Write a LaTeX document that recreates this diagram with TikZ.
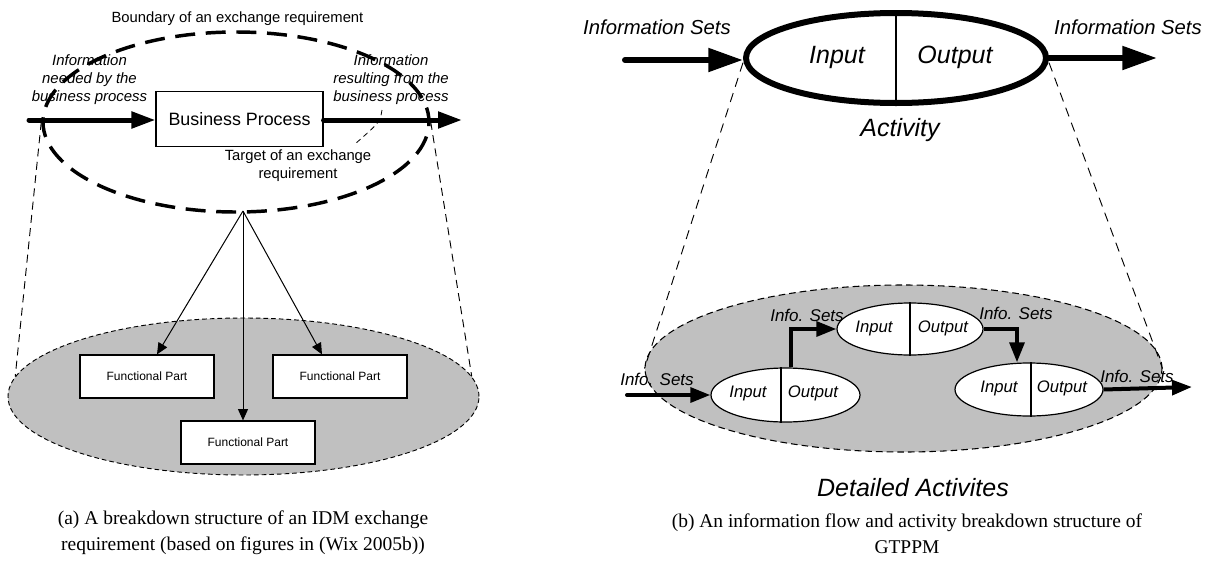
\documentclass[tikz,border=0pt]{standalone}
\usepackage{fontspec}
\setmainfont{Liberation Serif}
\setsansfont{Liberation Sans}
\usetikzlibrary{arrows.meta,shapes.geometric,calc}
\definecolor{shade}{HTML}{C0C0C0}
\begin{document}
\begin{tikzpicture}[x=0.75pt,y=-0.75pt,
  sf/.style={font=\sffamily\fontsize{#1}{#1}\selectfont},
  sfi/.style={font=\sffamily\itshape\fontsize{#1}{#1}\selectfont},
  lbl/.style={inner sep=0pt, align=center},
  bigarrow/.style={line width=3.75pt, line cap=round, -{Triangle[length=18pt,width=12pt]}},
  fatarrow/.style={line width=4.5pt, line cap=round, -{Triangle[length=26pt,width=17pt]}},
  midarrow/.style={line width=3pt, -{Triangle[length=15pt,width=11pt]}},
  thinarrow/.style={line width=0.75pt, -{Triangle[length=8.5pt,width=7.5pt]}},
  guide/.style={line width=0.7pt, dash pattern=on 6pt off 4pt},
  fpbox/.style={draw, line width=0.9pt, fill=white, minimum width=100.5pt, minimum height=32.25pt, inner sep=0pt, sf=9},
  smallact/.style={draw, ellipse, line width=0.9pt, fill=white, inner sep=0pt},
]
\useasboundingbox (0,0) rectangle (1215,561);

%%%%%%%%%%%%%%%% (a) %%%%%%%%%%%%%%%%
\node[ellipse, fill=shade, draw, line width=0.7pt, dash pattern=on 3.5pt off 2.25pt,
      minimum width=353.25pt, minimum height=117.75pt, inner sep=0pt] (gl) at (243.5,396.5) {};
\node[fpbox] (fp1) at (147,376.5) {Functional Part};
\node[fpbox] (fp2) at (340,376.5) {Functional Part};
\node[fpbox] (fp3) at (248,442.5) {Functional Part};

\node[lbl, sf=11.1] (bndlbl) at (237.5,19) {Boundary of an exchange requirement};
\node[draw, line width=0.8pt, minimum width=125.25pt, minimum height=41.25pt, inner sep=0pt, sf=13.4] (bp) at (239.5,119) {Business Process};
\node[lbl, font=\sffamily\itshape\fontsize{11.2pt}{13.5pt}\selectfont] (need) at (89.5,80) {Information\\needed by the\\business process};
\node[lbl, font=\sffamily\itshape\fontsize{11.2pt}{13.5pt}\selectfont] (res) at (391,80) {Information\\resulting from the\\business process};
\node[lbl, font=\sffamily\fontsize{11.1pt}{13.5pt}\selectfont] (tgt) at (298,166) {Target of an exchange\\requirement};

\node[ellipse, draw, line width=2.6pt, dash pattern=on 15pt off 8pt, dash phase=4pt,
      minimum width=289.5pt, minimum height=135pt, inner sep=0pt] (bnd) at (236,122) {};

\coordinate (ain) at (29,120);
\coordinate (aout) at (462,120);
\draw[bigarrow] (ain) -- (bp.west |- ain);
\draw[bigarrow] (bp.east |- aout) -- (aout);

\draw[guide, line width=0.6pt, dash pattern=on 4pt off 3pt] (382,110) .. controls (380,122) .. (355,144);

\coordinate (apex) at (243,211);
\draw[thinarrow] (apex) -- ($(fp1.north)+(7.5pt,0)$);
\draw[thinarrow] (apex) -- ($(fp2.north)+(-13.5pt,0)$);
\draw[thinarrow] (apex) -- ($(fp3.north)+(-3.75pt,0)$);

\draw[guide] (bnd.west) -- (gl.175);
\draw[guide] (bnd.east) -- (gl.5);

\node[lbl, font=\fontsize{14.6pt}{19.5pt}\selectfont] (capa) at (243,533)
  {(a) A breakdown structure of an IDM exchange\\requirement (based on figures in (Wix 2005b))};

%%%%%%%%%%%%%%%% (b) %%%%%%%%%%%%%%%%
\node[ellipse, fill=shade, draw, line width=0.8pt, dash pattern=on 5pt off 3pt,
      minimum width=387.75pt, minimum height=125.25pt, inner sep=0pt] (gr) at (903.5,368.5) {};

\node[ellipse, draw, line width=4.5pt, fill=white, minimum width=225pt, minimum height=67.5pt, inner sep=0pt] (act) at (896,58) {};
\draw[line width=0.9pt] (act.north) -- (act.south);
\node[lbl, sfi=18.75] (actin) at (837,57) {Input};
\node[lbl, sfi=18.75] (actout) at (955,57) {Output};
\node[lbl, sfi=18.75] (actlbl) at (900,130) {Activity};
\node[lbl, sfi=15.2] (isl) at (657,27) {Information Sets};
\node[lbl, sfi=15.2] (isr) at (1128,27) {Information Sets};

\coordinate (bin) at (625,60);
\coordinate (bout) at (1157,58);
\draw[fatarrow] (bin) -- (act.west |- bin);
\draw[fatarrow] (act.east) -- (bout);

\draw[guide, dash pattern=on 7pt off 5pt] ($(act.west)+(0,-3.5pt)$) -- (gr.west);
\draw[guide, dash pattern=on 7pt off 5pt] ($(act.east)+(0,-3.5pt)$) -- (gr.east);

\node[smallact, minimum width=111.75pt, minimum height=40.5pt] (A) at (785.5,395) {};
\node[smallact, minimum width=109.5pt, minimum height=39pt] (B) at (910,329) {};
\node[smallact, minimum width=111pt, minimum height=39.75pt] (C) at (1029,389.5) {};
\draw[line width=0.9pt] ([xshift=-3.4pt]A.north) -- ([xshift=-3.4pt]A.south);
\draw[line width=0.9pt] (B.north) -- (B.south);
\draw[line width=0.9pt] ([xshift=1.5pt]C.north) -- ([xshift=1.5pt]C.south);

\node[lbl, sfi=12.5] (ain2) at (748,393) {Input};
\node[lbl, sfi=12.5] (aout2) at (813,393) {Output};
\node[lbl, sfi=12.5] (bin2) at (874,328) {Input};
\node[lbl, sfi=12.5] (bout2) at (943,328) {Output};
\node[lbl, sfi=12.5] (cin2) at (999,388) {Input};
\node[lbl, sfi=12.5] (cout2) at (1062,388) {Output};

\coordinate (sin) at (627,395);
\coordinate (sout) at (1192,387);
\draw[midarrow, line cap=round] (sin) -- (A.west);
\draw[midarrow] ([xshift=4pt]A.north) |- (B.west);
\draw[midarrow] (B.east) -| ([xshift=-9pt]C.north);
\draw[midarrow] (C.east) -- (sout);

\node[lbl, sfi=12.75] (is1) at (657,379) {Info. Sets};
\node[lbl, sfi=12.75] (is2) at (807,315) {Info. Sets};
\node[lbl, sfi=12.75] (is3) at (1016,313) {Info. Sets};
\node[lbl, sfi=12.75] (is4) at (1137,376) {Info. Sets};

\node[lbl, sfi=18.75] (det) at (913,488) {Detailed Activites};
\node[lbl, font=\fontsize{14.6pt}{19.5pt}\selectfont] (capb) at (907,534)
  {(b) An information flow and activity breakdown structure of\\GTPPM};
\end{tikzpicture}
\end{document}
